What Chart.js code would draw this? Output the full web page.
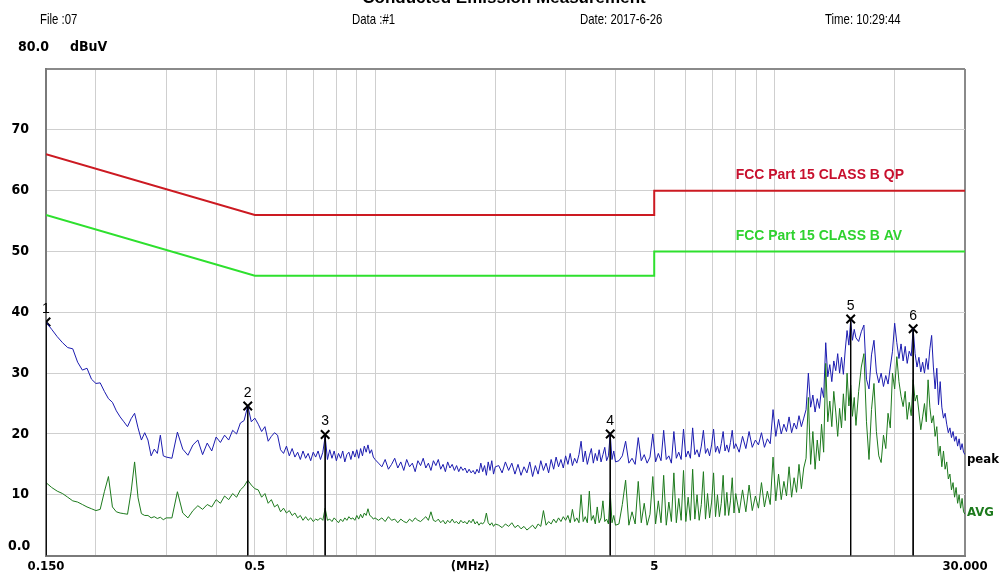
<!DOCTYPE html>
<html>
<head>
<meta charset="utf-8">
<script src="https://cdn.jsdelivr.net/npm/chart.js@4.4.1/dist/chart.umd.min.js"></script>
<style>
  html, body { margin: 0; padding: 0; background: #fff; }
  #wrap { width: 1006px; height: 581px; }
</style>
</head>
<body>
<div id="wrap"><canvas id="emiChart" width="1006" height="581"></canvas></div>
<script>
// sweep frequencies (MHz)
const freqMHz = [
  0.150, 0.155, 0.160, 0.165, 0.170, 0.175, 0.180, 0.185, 0.190, 0.195,
  0.200, 0.205, 0.210, 0.215, 0.220, 0.225, 0.230, 0.235, 0.240, 0.245,
  0.250, 0.255, 0.260, 0.265, 0.270, 0.275, 0.280, 0.285, 0.290, 0.295, 0.300,
  0.31, 0.32, 0.33, 0.34, 0.35, 0.36, 0.37, 0.38, 0.39, 0.40,
  0.41, 0.42, 0.43, 0.44, 0.45, 0.46, 0.47, 0.48, 0.49, 0.50,
  0.51, 0.52, 0.53, 0.54, 0.55, 0.56, 0.57, 0.58, 0.59, 0.60,
  0.61, 0.62, 0.63, 0.64, 0.65, 0.66, 0.67, 0.68, 0.69, 0.70,
  0.71, 0.72, 0.73, 0.74, 0.75, 0.76, 0.77, 0.78, 0.79, 0.80,
  0.81, 0.82, 0.83, 0.84, 0.85, 0.86, 0.87, 0.88, 0.89, 0.90,
  0.91, 0.92, 0.93, 0.94, 0.95, 0.96, 0.97, 0.98, 0.99, 1.00,
  1.02, 1.04, 1.06, 1.08, 1.10, 1.12, 1.14, 1.16, 1.18, 1.20,
  1.22, 1.24, 1.26, 1.28, 1.30, 1.32, 1.34, 1.36, 1.38, 1.40,
  1.42, 1.44, 1.46, 1.48, 1.50, 1.52, 1.54, 1.56, 1.58, 1.60,
  1.62, 1.64, 1.66, 1.68, 1.70, 1.72, 1.74, 1.76, 1.78, 1.80,
  1.82, 1.84, 1.86, 1.88, 1.90, 1.92, 1.94, 1.96, 1.98, 2.00,
  2.04, 2.08, 2.12, 2.16, 2.20, 2.24, 2.28, 2.32, 2.36, 2.40,
  2.44, 2.48, 2.52, 2.56, 2.60, 2.64, 2.68, 2.72, 2.76, 2.80,
  2.84, 2.88, 2.92, 2.96, 3.00, 3.04, 3.08, 3.12, 3.16, 3.20,
  3.24, 3.28, 3.32, 3.36, 3.40, 3.44, 3.48, 3.52, 3.56, 3.60,
  3.64, 3.68, 3.72, 3.76, 3.80, 3.84, 3.88, 3.92, 3.96, 4.00,
  4.08, 4.16, 4.24, 4.32, 4.40, 4.48, 4.56, 4.64, 4.72, 4.80,
  4.88, 4.96, 5.04, 5.12, 5.20, 5.28, 5.36, 5.44, 5.52, 5.60,
  5.68, 5.76, 5.84, 5.92, 6.00, 6.08, 6.16, 6.24, 6.32, 6.40,
  6.48, 6.56, 6.64, 6.72, 6.80, 6.88, 6.96, 7.04, 7.12, 7.20,
  7.28, 7.36, 7.44, 7.52, 7.60, 7.68, 7.76, 7.84, 7.92, 8.00,
  8.16, 8.32, 8.48, 8.64, 8.80, 8.96, 9.12, 9.28, 9.44, 9.60,
  9.76, 9.92, 10.08, 10.24, 10.40, 10.56, 10.72, 10.88, 11.04, 11.20,
  11.36, 11.52, 11.68, 11.84, 12.00, 12.16, 12.32, 12.48, 12.64, 12.80,
  12.96, 13.12, 13.28, 13.44, 13.60, 13.76, 13.92, 14.08, 14.24, 14.40,
  14.56, 14.72, 14.88, 15.04, 15.20, 15.36, 15.52, 15.68, 15.84, 16.00,
  16.25, 16.50, 16.75, 17.00, 17.25, 17.50, 17.75, 18.00, 18.25, 18.50,
  18.75, 19.00, 19.25, 19.50, 19.75, 20.00, 20.25, 20.50, 20.75, 21.00,
  21.25, 21.50, 21.75, 22.00, 22.25, 22.50, 22.75, 23.00, 23.25, 23.50,
  23.75, 24.00, 24.25, 24.50, 24.75, 25.00, 25.25, 25.50, 25.75, 26.00,
  26.25, 26.50, 26.75, 27.00, 27.25, 27.50, 27.75, 28.00, 28.25, 28.50,
  28.75, 29.00, 29.25, 29.50, 29.75, 30.00
];

// peak detector trace (dBuV)
const peakDb = [
  38.4, 37.2, 36.0, 35.0, 34.2, 34.0, 31.8, 30.5, 30.8, 29.0,
  28.3, 28.4, 27.0, 25.8, 25.2, 23.8, 22.8, 22.0, 21.2, 22.5,
  23.4, 21.0, 19.0, 20.2, 19.0, 16.4, 17.5, 16.8, 19.8, 16.4, 16.2,
  16.0, 20.3, 17.5, 16.5, 18.2, 19.0, 16.6, 18.5, 17.2, 19.5,
  18.6, 19.8, 19.0, 20.6, 20.0, 21.8, 22.2, 24.6, 22.0, 22.6,
  21.6, 20.4, 21.2, 18.8, 19.6, 20.2, 19.8, 17.4, 16.8, 18.0,
  16.4, 17.6, 16.2, 17.0, 15.8, 17.2, 16.0, 16.8, 15.6, 17.0,
  16.2, 17.2, 15.8, 17.0, 19.6, 15.8, 17.4, 16.0, 17.2, 15.6,
  16.8, 16.0, 17.2, 15.4, 16.6, 17.0, 15.8, 17.2, 16.2, 17.4,
  16.0, 17.6, 16.4, 18.0, 17.0, 18.2, 16.8, 17.4, 16.2, 15.8,
  15.2, 14.6, 15.8, 14.2, 15.0, 16.0, 14.4, 15.4, 14.0, 15.8,
  14.6, 15.2, 13.8, 15.6, 14.8, 16.0, 14.4, 15.2, 14.0, 15.6,
  14.8, 15.8, 14.2, 15.0, 13.8, 15.4, 14.4, 15.0, 14.0, 14.8,
  13.8, 14.6, 14.0, 14.4, 13.6, 14.2, 13.6, 14.0, 13.4, 14.2,
  13.6, 15.2, 13.8, 14.8, 13.2, 15.4, 14.0, 15.6, 13.4, 14.6,
  14.8, 13.6, 15.4, 14.0, 15.2, 13.4, 15.0, 13.2, 14.6, 13.6,
  15.4, 13.0, 14.8, 13.4, 15.6, 14.0, 15.2, 13.6, 15.8, 14.2,
  16.2, 14.6, 15.8, 14.4, 16.4, 15.0, 16.8, 14.8, 16.0, 15.2,
  16.6, 18.8, 15.4, 17.2, 15.0, 16.4, 17.6, 15.2, 16.8, 15.6,
  17.4, 15.4, 16.6, 17.8, 15.6, 16.4, 20.0, 15.8, 17.2, 15.4,
  15.6, 16.4, 18.8, 15.2, 16.0, 15.0, 19.4, 15.6, 16.6, 15.2,
  16.2, 20.0, 15.4, 16.8, 15.6, 20.6, 15.8, 16.4, 15.2, 20.4,
  16.0, 17.0, 15.8, 20.8, 16.2, 17.2, 16.0, 21.0, 16.6, 17.4,
  16.2, 18.0, 20.6, 16.8, 17.6, 16.4, 18.2, 20.8, 17.0, 18.0,
  16.8, 18.4, 20.4, 17.2, 18.2, 17.0, 18.6, 20.6, 17.6, 18.4,
  17.0, 19.6, 17.6, 20.4, 17.8, 19.0, 18.2, 20.2, 17.8, 19.2,
  18.4, 24.0, 19.6, 22.4, 20.0, 21.6, 20.4, 22.8, 20.2, 21.8,
  20.8, 23.0, 21.2, 22.6, 24.0, 30.0, 24.4, 26.4, 23.6, 25.8,
  24.2, 27.6, 26.0, 35.0, 29.4, 31.4, 28.6, 32.0, 30.4, 33.2,
  30.0, 32.6, 29.8, 33.8, 37.0, 34.6, 38.7, 35.4, 37.2, 35.8,
  35.2, 36.8, 37.9, 29.0, 27.4, 33.0, 35.4, 30.2, 28.4, 30.0,
  27.8, 29.6, 28.2, 31.0, 33.6, 38.2, 35.0, 32.4, 34.8, 32.0,
  34.4, 31.6, 33.6, 32.8, 37.3, 33.2, 31.0, 32.6, 30.2, 31.8,
  30.0, 32.4, 30.6, 34.0, 36.2, 31.0, 27.4, 30.8, 24.8, 28.6,
  24.4, 22.6, 23.4, 21.6, 20.2, 21.0, 19.4, 20.4, 18.8, 19.6,
  18.0, 19.2, 17.4, 18.4, 17.0, 16.6
];

// average detector trace (dBuV)
const avgDb = [
  12.0, 11.2, 10.6, 10.2, 9.6, 9.0, 8.8, 8.4, 8.0, 7.7,
  7.4, 7.6, 10.5, 13.0, 8.0, 7.2, 7.0, 6.9, 6.8, 10.5,
  15.4, 9.5, 6.9, 6.6, 6.6, 6.2, 6.4, 6.1, 6.3, 5.9, 6.2,
  6.2, 10.5, 7.0, 6.2, 7.4, 8.2, 7.6, 8.4, 8.0, 9.2,
  8.6, 9.8, 9.2, 10.2, 9.6, 10.8, 11.4, 12.4, 11.6, 11.0,
  10.8, 9.6, 10.2, 8.6, 9.2, 8.0, 8.4, 7.2, 7.8, 7.0,
  7.4, 6.6, 7.0, 6.2, 6.6, 5.8, 6.4, 5.8, 6.2, 5.6,
  6.0, 5.8, 6.2, 5.8, 7.8, 5.8, 6.0, 5.6, 6.2, 5.8,
  5.4, 6.0, 5.6, 6.2, 5.8, 6.4, 6.0, 6.2, 5.8, 6.6,
  6.0, 6.8, 6.2, 7.0, 6.6, 7.7, 6.6, 6.4, 6.0, 6.2,
  5.8, 6.2, 5.6, 6.4, 5.8, 6.0, 5.4, 6.0, 5.6, 5.4,
  6.0, 5.6, 6.2, 5.8, 5.6, 6.0, 6.4, 5.8, 7.2, 5.8,
  5.6, 6.0, 5.4, 5.8, 5.2, 5.8, 5.4, 6.0, 5.4, 5.6,
  5.2, 5.8, 5.4, 5.6, 5.2, 5.8, 5.4, 6.0, 5.2, 5.6,
  5.0, 5.4, 5.2, 5.6, 7.0, 5.4, 5.0, 5.4, 4.8, 5.2,
  5.0, 4.6, 5.2, 4.8, 5.4, 4.6, 5.0, 4.4, 4.8, 4.2,
  4.6, 5.0, 4.4, 5.2, 4.8, 7.4, 5.0, 5.6, 5.2, 6.0,
  5.4, 6.2, 5.6, 6.4, 5.8, 6.6, 5.4, 7.6, 5.6, 6.2,
  5.4, 10.0, 5.6, 6.4, 5.4, 10.6, 5.8, 6.6, 5.2, 8.0,
  5.4, 6.2, 9.0, 5.6, 6.0, 5.2, 10.4, 5.4, 6.6, 5.0,
  5.2, 8.4, 12.4, 5.0, 7.2, 5.2, 12.2, 5.4, 8.6, 5.0,
  6.8, 13.0, 5.2, 9.0, 5.4, 13.2, 5.0, 8.8, 5.6, 13.6,
  5.4, 9.4, 5.8, 14.0, 5.6, 9.6, 5.8, 14.2, 6.0, 10.0,
  5.8, 8.4, 13.8, 6.0, 10.2, 6.2, 8.8, 13.6, 6.4, 10.0,
  6.4, 8.6, 13.2, 6.6, 10.4, 6.6, 9.0, 12.8, 7.0, 10.2,
  7.0, 10.8, 7.2, 11.6, 7.4, 9.8, 7.8, 12.0, 8.0, 10.6,
  8.4, 16.2, 9.0, 13.4, 9.2, 12.2, 9.8, 14.6, 9.6, 12.8,
  10.4, 15.0, 11.0, 14.4, 16.0, 26.0, 15.0, 20.4, 14.2, 19.0,
  15.6, 21.6, 17.0, 31.6, 22.0, 25.4, 21.2, 27.0, 23.6, 19.6,
  24.2, 21.0, 26.6, 22.2, 30.0, 24.6, 28.0, 22.9, 26.0, 21.4,
  27.0, 31.0, 33.2, 22.0, 15.8, 24.0, 28.3, 20.4, 16.4, 15.3,
  19.8, 17.6, 23.4, 21.0, 30.0, 27.4, 32.7, 28.6, 26.2, 24.5,
  27.0, 22.4, 25.2, 23.0, 28.9, 25.4, 26.4, 23.6, 20.7, 22.8,
  25.0, 22.0, 28.9, 24.4, 21.8, 23.0, 19.6, 21.2, 16.4, 18.0,
  14.6, 17.2, 14.2, 15.4, 12.6, 13.4, 10.8, 12.0, 9.6, 11.2,
  8.6, 10.0, 7.8, 9.4, 7.2, 6.8
];

// FCC Part 15 class B limits
const limitFreq = [0.15, 0.5, 5, 5, 30];
const limitQp = [66, 56, 56, 60, 60];
const limitAv = [56, 46, 46, 50, 50];

// marker points
const markerNames = ['1', '2', '3', '4', '5', '6'];
const markerFreq = [0.150, 0.48, 0.75, 3.88, 15.52, 22.25];
const markerDb = [38.4, 24.6, 19.9, 20.0, 38.9, 37.3];

// axis ticks
const xTickValues = [0.15, 0.2, 0.3, 0.4, 0.5, 0.6, 0.7, 0.8, 0.9, 1, 1.73, 2, 3, 4, 5, 6, 7, 8, 9, 10, 20, 30];
const xLabelValues = [0.15, 0.5, 1.73, 5, 30];
const xLabelTexts = ['0.150', '0.5', '(MHz)', '5', '30.000'];
const yTickLabels = ['0.0', '10', '20', '30', '40', '50', '60', '70', '80.0'];

const headerTexts = ['File :07', 'Data :#1', 'Date: 2017-6-26', 'Time: 10:29:44'];
const titleText = 'Conducted Emission Measurement';
const unitText = 'dBuV';
const qpLabel = 'FCC Part 15 CLASS B QP';
const avLabel = 'FCC Part 15 CLASS B AV';

const FONT = '"DejaVu Sans Condensed", "Liberation Sans", sans-serif';
const FONT_LABEL = '"Liberation Sans", Arial, sans-serif';

const toXY = (xs, ys) => xs.map((x, i) => ({ x: x, y: ys[i] }));

const stemData = [];
markerFreq.forEach((f, i) => {
    stemData.push({ x: f, y: markerDb[i] });
    stemData.push({ x: f, y: 0 });
    stemData.push({ x: f, y: null });
});

// draws narrow header text by squeezing it horizontally
function squeezedText(ctx, text, x, y, k) {
    ctx.save();
    ctx.translate(x, y);
    ctx.scale(k, 1);
    ctx.fillText(text, 0, 0);
    ctx.restore();
}

const textPlugin = {
    id: 'textPlugin',
    afterDraw(chart) {
        const { ctx, scales: { x, y }, chartArea } = chart;
        ctx.save();
        ctx.fillStyle = '#000';
        ctx.textBaseline = 'middle';

        // header
        ctx.font = 'bold 17px ' + FONT_LABEL;
        ctx.textAlign = 'center';
        ctx.fillText(titleText, 504, -2);
        ctx.font = '15px ' + FONT_LABEL;
        ctx.textAlign = 'left';
        const hx = [40, 352, 580, 825];
        headerTexts.forEach((t, i) => squeezedText(ctx, t, hx[i], 20, 0.76));

        // top / bottom y labels
        ctx.font = 'bold 14px ' + FONT;
        ctx.fillText(yTickLabels[8], 18, 47);
        ctx.fillText(unitText, 70, 47);
        ctx.fillText(yTickLabels[0], 8, 546);

        // limit labels
        ctx.font = 'bold 15px ' + FONT_LABEL;
        ctx.fillStyle = '#c8102e';
        squeezedText(ctx, qpLabel, x.getPixelForValue(8.0), y.getPixelForValue(62.6), 0.93);
        ctx.fillStyle = '#2fd22f';
        squeezedText(ctx, avLabel, x.getPixelForValue(8.0), y.getPixelForValue(52.6), 0.93);

        // trace end labels
        ctx.font = 'bold 13px ' + FONT;
        ctx.fillStyle = '#000';
        ctx.fillText('peak', chartArea.right + 2, y.getPixelForValue(peakDb[peakDb.length - 1]) + 5);
        ctx.fillStyle = '#1d7a1d';
        ctx.fillText('AVG', chartArea.right + 2, y.getPixelForValue(avgDb[avgDb.length - 1]) - 2);

        // marker numbers
        ctx.fillStyle = '#000';
        ctx.font = '14px ' + FONT_LABEL;
        ctx.textAlign = 'center';
        markerFreq.forEach((f, i) => {
            ctx.fillText(markerNames[i], x.getPixelForValue(f), y.getPixelForValue(markerDb[i]) - 13);
        });
        ctx.restore();
    }
};

new Chart(document.getElementById('emiChart'), {
    type: 'line',
    data: {
        datasets: [
            { label: 'QP limit', data: toXY(limitFreq, limitQp), borderColor: '#cc1a22', borderWidth: 2, pointRadius: 0, tension: 0 },
            { label: 'AV limit', data: toXY(limitFreq, limitAv), borderColor: '#2ee02e', borderWidth: 2, pointRadius: 0, tension: 0 },
            { label: 'stems', data: stemData, borderColor: '#000', borderWidth: 1, pointRadius: 0, spanGaps: false },
            { label: 'AVG', data: toXY(freqMHz, avgDb), borderColor: '#1d7a1d', borderWidth: 1, pointRadius: 0, tension: 0 },
            { label: 'peak', data: toXY(freqMHz, peakDb), borderColor: '#1c1cb0', borderWidth: 1, pointRadius: 0, tension: 0 },
            { label: 'markers', data: toXY(markerFreq, markerDb), showLine: false, pointStyle: 'crossRot', pointRadius: 6, borderColor: '#000', borderWidth: 2 }
        ]
    },
    options: {
        responsive: false,
        animation: false,
        devicePixelRatio: 1,
        layout: { padding: { top: 69, right: 41, left: 0, bottom: 0 } },
        plugins: { legend: { display: false }, tooltip: { enabled: false } },
        scales: {
            x: {
                type: 'logarithmic',
                min: 0.15,
                max: 30,
                afterBuildTicks: axis => { axis.ticks = xTickValues.map(v => ({ value: v })); },
                afterFit: axis => { axis.height = 21; },
                grid: {
                    drawTicks: false,
                    color: c => c.tick && c.tick.value === 1.73 ? 'rgba(0,0,0,0)' : (c.tick && c.tick.value === 30 ? '#8a8a8a' : '#cfcfcf'),
                    lineWidth: c => c.tick && c.tick.value === 30 ? 2 : 1
                },
                border: { color: '#7a7a7a', width: 2 },
                ticks: {
                    autoSkip: false,
                    maxRotation: 0,
                    padding: 3,
                    color: '#000',
                    font: { family: FONT, size: 13, weight: 'bold' },
                    callback: v => {
                        const i = xLabelValues.indexOf(v);
                        return i >= 0 ? xLabelTexts[i] : '';
                    }
                }
            },
            y: {
                min: 0,
                max: 80,
                afterFit: axis => { axis.width = 46; },
                grid: {
                    drawTicks: false,
                    color: c => c.tick && c.tick.value === 80 ? '#8a8a8a' : '#cfcfcf',
                    lineWidth: c => c.tick && c.tick.value === 80 ? 2 : 1
                },
                border: { color: '#7a7a7a', width: 2 },
                ticks: {
                    stepSize: 10,
                    padding: 17,
                    color: '#000',
                    font: { family: FONT, size: 14, weight: 'bold' },
                    callback: v => (v === 0 || v === 80) ? '' : yTickLabels[v / 10]
                }
            }
        }
    },
    plugins: [textPlugin]
});
</script>
</body>
</html>
